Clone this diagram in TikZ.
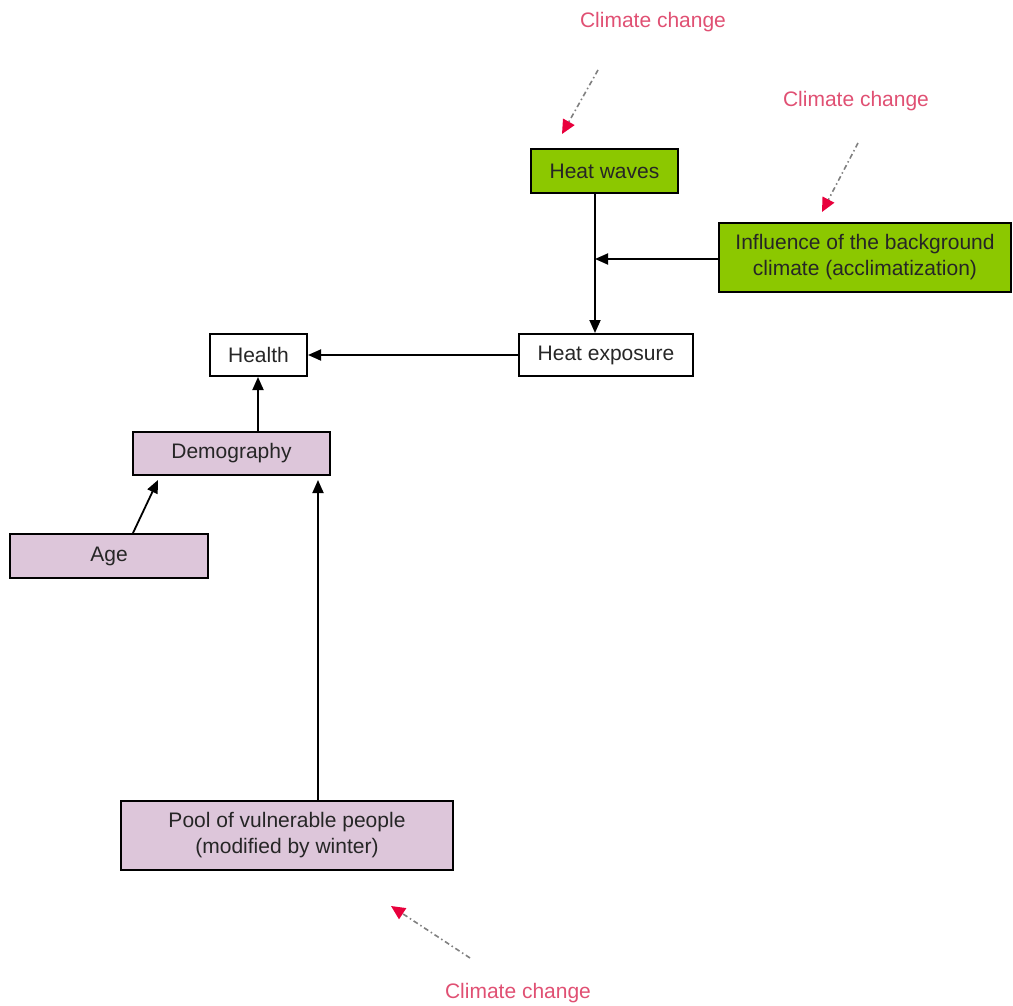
\documentclass[tikz,border=0pt]{standalone}
\usepackage{fontspec}
\setmainfont{Liberation Sans}
\usetikzlibrary{arrows.meta}
\definecolor{hgreen}{RGB}{140,200,0}
\definecolor{lav}{RGB}{221,198,218}
\definecolor{ccred}{RGB}{224,80,115}
\definecolor{tipred}{RGB}{232,0,60}
\begin{document}
\begin{tikzpicture}[x=1pt,y=-1pt,
  box/.style={draw=black,line width=2pt,inner sep=0pt,align=center,text=black!85,font=\fontsize{21}{26}\selectfont},
  gbox/.style={box,fill=hgreen},
  pbox/.style={box,fill=lav},
  wbox/.style={box,fill=white},
  cc/.style={text=ccred,font=\fontsize{21}{24}\selectfont,inner sep=0pt},
  link/.style={line width=1.8pt,-{Triangle[length=13pt,width=11pt]}},
  influ/.style={gray,line width=1.6pt,dash pattern=on 5pt off 3pt on 1.5pt off 3pt,
    -{Triangle[length=14pt,width=13pt,fill=tipred,color=tipred]}}
]
\useasboundingbox (0,0) rectangle (1013,1006);
\node[gbox,minimum width=147pt,minimum height=44pt] (hw) at (604.5,171) {Heat waves};
\node[gbox,minimum width=292pt,minimum height=69pt] (inf) at (865,257.5) {Influence of the background\\climate (acclimatization)};
\node[wbox,minimum width=174pt,minimum height=42pt] (he) at (606,355) {Heat exposure};
\node[wbox,minimum width=97pt,minimum height=42pt] (hl) at (258.5,355) {Health};
\node[pbox,minimum width=197pt,minimum height=43pt] (dm) at (231.5,453.5) {Demography};
\node[pbox,minimum width=198pt,minimum height=44pt] (ag) at (109,556) {Age};
\node[pbox,minimum width=332pt,minimum height=69pt] (pl) at (287,835.5) {Pool of vulnerable people\\(modified by winter)};
\node[cc] (cc1) at (653,22) {Climate change};
\node[cc] (cc2) at (856,101) {Climate change};
\node[cc] (cc3) at (518,993) {Climate change};
\coordinate (j) at (595,259);
\coordinate (v) at (258,0);
\coordinate (s1) at (598,70);
\coordinate (t1) at (562,134);
\coordinate (s2) at (858,143);
\coordinate (t2) at (822,212);
\coordinate (s3) at (470,958);
\coordinate (t3) at (391,906);
\draw[link] (hw.south -| j) -- (he.north -| j);
\draw[link] (inf.west |- j) -- (j);
\draw[link] (he.west) -- (hl.east);
\draw[link] (dm.north -| v) -- (hl.south -| v);
\draw[link] (ag.north -| 133,0) -- (158,480);
\draw[link] (pl.north -| 318,0) -- (318,480);
\draw[influ] (s1) -- (t1);
\draw[influ] (s2) -- (t2);
\draw[influ] (s3) -- (t3);
\end{tikzpicture}
\end{document}
